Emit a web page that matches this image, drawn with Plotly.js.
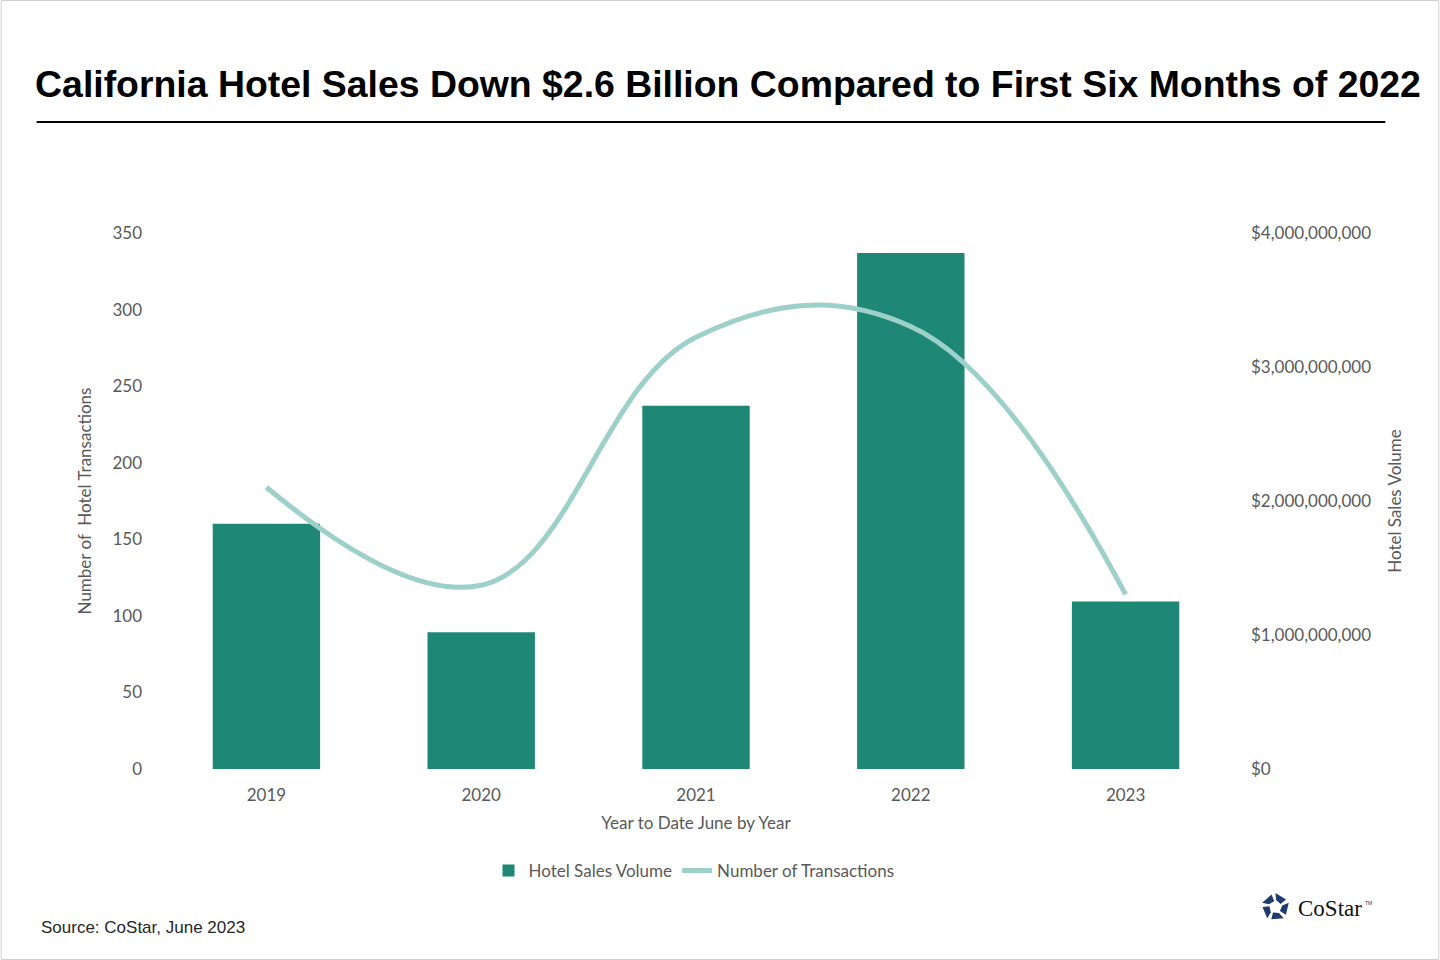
<!DOCTYPE html>
<html>
<head>
<meta charset="utf-8">
<script src="https://cdn.plot.ly/plotly-3.0.1.min.js"></script>
<style>
  html, body { margin: 0; padding: 0; background: #fff; }
  #chart { width: 1440px; height: 960px; }
</style>
</head>
<body>
<div id="chart"></div>
<script>
// values
const years = ['2019', '2020', '2021', '2022', '2023'];
const salesVolume = [1.83e9, 1.02e9, 2.71e9, 3.85e9, 1.25e9];
const transactions = [184, 120, 282, 289, 114];

const countTicks = [0, 50, 100, 150, 200, 250, 300, 350];
const volumeTicks = [0, 1e9, 2e9, 3e9, 4e9];
const volumeTickLabels = ['$0', '$1,000,000,000', '$2,000,000,000', '$3,000,000,000', '$4,000,000,000'];

const W = 1440, H = 960;
const margin = { l: 158.5, r: 206.5, t: 233, b: 191 };
const plotW = W - margin.l - margin.r;
const plotH = H - margin.t - margin.b;

// pixel position -> paper coordinate
function px(x) { return (x - margin.l) / plotW; }
function py(y) { return (H - margin.b - y) / plotH; }

const tickFont = { family: 'Lato, "Open Sans", sans-serif', size: 17, color: '#595959' };
const titleFont = { family: 'Lato, "Open Sans", sans-serif', size: 17, color: '#595959' };

const barTrace = {
    x: years,
    y: salesVolume,
    type: 'bar',
    name: 'Hotel Sales Volume',
    yaxis: 'y',
    marker: { color: '#1f8776' },
    hoverinfo: 'none'
};

const lineTrace = {
    x: years,
    y: transactions,
    type: 'scatter',
    mode: 'lines',
    name: 'Number of Transactions',
    yaxis: 'y2',
    line: { color: '#9dd0c8', width: 5, shape: 'spline', smoothing: 1.15 },
    hoverinfo: 'none'
};

// CoStar mark, five blades round a centre
function logoSvg() {
    let paths = '';
    for (let i = 0; i < 5; i++) {
        const a = (-90 + 72 * i) * Math.PI / 180;
        const pts = [
            [Math.cos(a) * 14, Math.sin(a) * 14],
            [Math.cos(a + 0.95) * 13, Math.sin(a + 0.95) * 13],
            [Math.cos(a + 1.05) * 6, Math.sin(a + 1.05) * 6],
            [Math.cos(a + 0.1) * 7, Math.sin(a + 0.1) * 7]
        ].map(p => (p[0] + 15).toFixed(2) + ',' + (p[1] + 15).toFixed(2)).join(' ');
        paths += '<polygon points="' + pts + '" fill="#1f3a6e"/>';
    }
    const svg = '<svg xmlns="http://www.w3.org/2000/svg" width="30" height="30" viewBox="0 0 30 30">' + paths + '</svg>';
    return 'data:image/svg+xml;base64,' + btoa(svg);
}

const layout = {
    width: W,
    height: H,
    margin: margin,
    paper_bgcolor: '#ffffff',
    plot_bgcolor: '#ffffff',
    showlegend: true,
    bargap: 0.5,
    title: {
        text: '<b>California Hotel Sales Down $2.6 Billion Compared to First Six Months of 2022</b>',
        font: { family: '"Liberation Sans", Arial, sans-serif', size: 37.4, color: '#000000' },
        x: 728 / W, xref: 'container', xanchor: 'center',
        y: 1 - 84 / H, yref: 'container', yanchor: 'middle'
    },
    xaxis: {
        type: 'category',
        range: [-0.5, 4.5],
        showline: false,
        showgrid: false,
        zeroline: false,
        ticks: '',
        tickfont: tickFont,
        ticklabelstandoff: 14,
        title: { text: 'Year to Date June by Year', font: titleFont, standoff: 13 },
        fixedrange: true
    },
    yaxis: {
        side: 'right',
        range: [0, 4e9],
        tickvals: volumeTicks,
        ticktext: volumeTickLabels,
        showgrid: false,
        zeroline: false,
        showline: false,
        ticks: '',
        tickfont: tickFont,
        ticklabelstandoff: 17,
        title: { text: 'Hotel Sales Volume', font: titleFont, standoff: 18 },
        fixedrange: true
    },
    yaxis2: {
        overlaying: 'y',
        side: 'left',
        range: [0, 350],
        tickvals: countTicks,
        showgrid: false,
        zeroline: false,
        showline: false,
        ticks: '',
        tickfont: tickFont,
        ticklabelstandoff: 16,
        title: { text: 'Number of  Hotel Transactions', font: titleFont, standoff: 16 },
        fixedrange: true
    },
    legend: {
        orientation: 'h',
        x: px(694), xanchor: 'center',
        y: py(871), yanchor: 'middle',
        font: titleFont,
        traceorder: 'normal',
        itemwidth: 30
    },
    shapes: [
        {
            type: 'line', xref: 'paper', yref: 'paper',
            x0: px(36), x1: px(1386), y0: py(122), y1: py(122),
            line: { color: '#000000', width: 2 }
        },
        {
            type: 'rect', xref: 'paper', yref: 'paper',
            x0: px(0.5), x1: px(W - 0.5), y0: py(0.5), y1: py(H - 0.5),
            line: { color: '#d0d0d0', width: 1 }
        }
    ],
    annotations: [
        {
            text: 'Source: CoStar, June 2023',
            xref: 'paper', yref: 'paper',
            x: px(38), y: py(927), xanchor: 'left', yanchor: 'middle',
            showarrow: false,
            font: { family: '"Liberation Sans", Arial, sans-serif', size: 17, color: '#262626' }
        },
        {
            text: 'CoStar',
            xref: 'paper', yref: 'paper',
            x: px(1297), y: py(908), xanchor: 'left', yanchor: 'middle',
            showarrow: false,
            font: { family: '"Liberation Serif", "DejaVu Serif", serif', size: 23, color: '#111111' }
        },
        {
            text: 'TM',
            xref: 'paper', yref: 'paper',
            x: px(1364), y: py(903), xanchor: 'left', yanchor: 'middle',
            showarrow: false,
            font: { family: '"Liberation Sans", Arial, sans-serif', size: 5, color: '#333333' }
        }
    ],
    images: [
        {
            source: logoSvg(),
            xref: 'paper', yref: 'paper',
            x: px(1261), y: py(892),
            sizex: 30 / plotW, sizey: 30 / plotH,
            xanchor: 'left', yanchor: 'top',
            sizing: 'stretch',
            layer: 'above'
        }
    ]
};

Plotly.newPlot('chart', [barTrace, lineTrace], layout, { displayModeBar: false, staticPlot: true });
</script>
</body>
</html>
